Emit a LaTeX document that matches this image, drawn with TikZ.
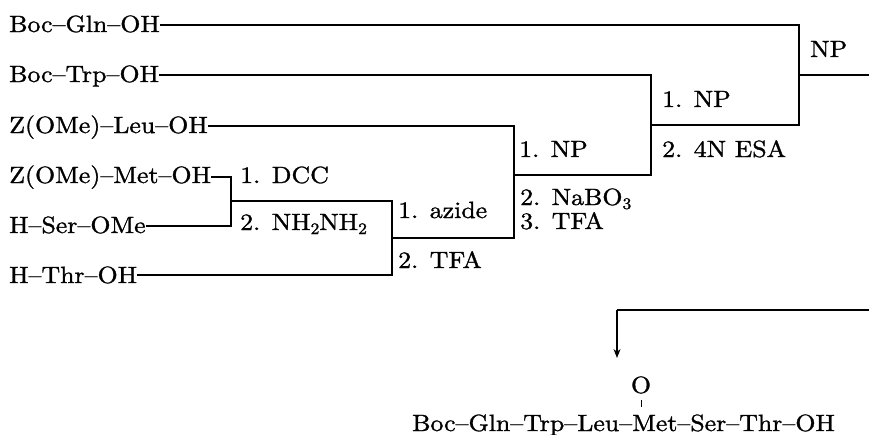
\documentclass[tikz,border=0pt]{standalone}
\usepackage{fontspec}
\setmainfont{lmroman10-regular.otf}[FakeStretch=1.10, FakeBold=1.2]
\usetikzlibrary{arrows.meta}
\begin{document}
\begin{tikzpicture}[x=1pt,y=-1pt,
  lbl/.style={anchor=base west, inner sep=0pt, font=\fontsize{23.5}{28}\selectfont},
  ctr/.style={anchor=base, inner sep=0pt, font=\fontsize{23.5}{28}\selectfont},
  ln/.style={line width=1.1pt},
  arr/.style={line width=1.1pt, -{Stealth[length=9pt,width=7pt]}}]
\useasboundingbox (0,0) rectangle (869,434);
% starting materials
\node[lbl] (gln) at (9,32) {Boc--Gln--OH};
\node[lbl] (trp) at (9,82) {Boc--Trp--OH};
\node[lbl] (leu) at (9,133) {Z(OMe)--Leu--OH};
\node[lbl] (met) at (9,183) {Z(OMe)--Met--OH};
\node[lbl] (ser) at (9,233) {H--Ser--OMe};
\node[lbl] (thr) at (9,283) {H--Thr--OH};
% junction coordinates
\coordinate (j1t) at (231,177);
\coordinate (j1b) at (231,226);
\coordinate (j1m) at (231,201);
\coordinate (j2t) at (392,201);
\coordinate (j2b) at (392,275);
\coordinate (j2m) at (392,238);
\coordinate (j3t) at (514,126);
\coordinate (j3b) at (514,238);
\coordinate (j3m) at (514,175);
\coordinate (j4t) at (651,75);
\coordinate (j4b) at (651,175);
\coordinate (j4m) at (651,125);
\coordinate (j5t) at (799,25);
\coordinate (j5b) at (799,125);
\coordinate (j5m) at (799,75);
\coordinate (out1) at (869,75);
\coordinate (out2) at (869,310);
\coordinate (bend) at (617,310);
\coordinate (tip) at (617,358);
% connectors
\draw[ln] (met.east |- j1t) -- (j1t) -- (j1b) -- (ser.east |- j1b);
\draw[ln] (j1m) -- (j2t) -- (j2b) -- (thr.east |- j2b);
\draw[ln] (j2m) -- (j3b) -- (j3t) -- (leu.east |- j3t);
\draw[ln] (j3m) -- (j4b) -- (j4t) -- (trp.east |- j4t);
\draw[ln] (j4m) -- (j5b) -- (j5t) -- (gln.east |- j5t);
\draw[ln] (j5m) -- (out1);
\draw[ln] (out2) -- (bend);
\draw[arr] (bend) -- (tip);
% reagents
\node[lbl] (dcc) at (240,183) {1. DCC};
\node[lbl] (hyd) at (240,230) {2. NH\raisebox{-4pt}{\fontsize{16}{16}\selectfont 2}NH\raisebox{-4pt}{\fontsize{16}{16}\selectfont 2}};
\node[lbl] (azi) at (398,218) {1. azide};
\node[lbl] (tfa1) at (398,268) {2. TFA};
\node[lbl] (np1) at (519,157) {1. NP};
\node[lbl] (nab) at (520,205) {2. NaBO\raisebox{-4pt}{\fontsize{16}{16}\selectfont 3}};
\node[lbl] (tfa2) at (520,229) {3. TFA};
\node[lbl] (np2) at (662,107) {1. NP};
\node[lbl] (esa) at (662,157) {2. 4N ESA};
\node[lbl] (np3) at (810,57) {NP};
% product
\node[lbl] (prod) at (412,431) {Boc--Gln--Trp--Leu--Met--Ser--Thr--OH};
\node[ctr] (ox) at (641,393) {O};
\draw[line width=0.9pt] ([yshift=-7pt]ox.base) -- ++(0,7);
\end{tikzpicture}
\end{document}
